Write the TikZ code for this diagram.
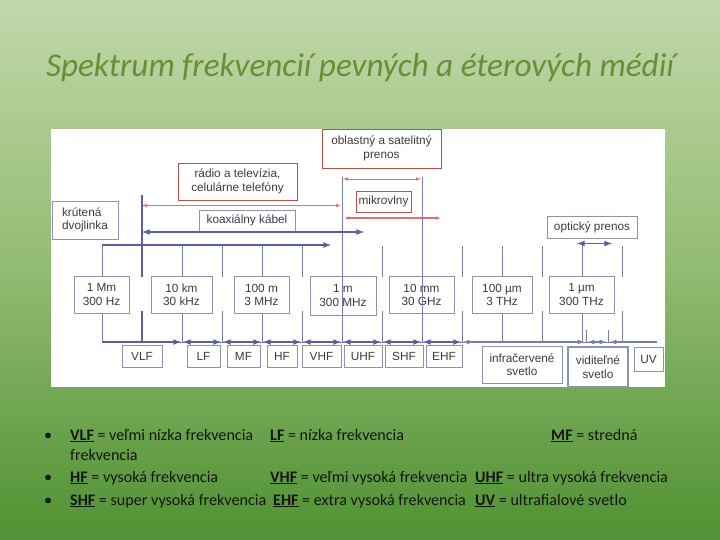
\documentclass[tikz,border=0pt]{standalone}
\usepackage{fontspec}
\setmainfont{Carlito}
\newfontfamily\diagfont{Liberation Sans}
\usetikzlibrary{positioning, arrows.meta}

\definecolor{bgtop}{RGB}{226,236,216}
\definecolor{bghigh}{RGB}{206,223,186}
\definecolor{bgmid}{RGB}{150,190,118}
\definecolor{bglow}{RGB}{88,150,58}
\definecolor{bgbot}{RGB}{36,110,22}
\definecolor{titlegreen}{RGB}{104,142,54}
\definecolor{axisblue}{RGB}{88,96,160}
\definecolor{tickblue}{RGB}{120,126,166}
\definecolor{boxgray}{RGB}{140,146,178}
\definecolor{boxred}{RGB}{192,76,76}
\definecolor{arrowred}{RGB}{222,112,112}
\definecolor{txtgray}{RGB}{60,60,64}
\definecolor{legendtext}{RGB}{20,22,20}

\pgfdeclareverticalshading{bgshade}{100bp}{color(0bp)=(bgbot); color(28bp)=(bglow); color(52bp)=(bgmid); color(82bp)=(bghigh); color(100bp)=(bgtop)}

\begin{document}
\begin{tikzpicture}[x=1pt, y=-1pt,
    box/.style={draw=boxgray, fill=white, line width=0.8pt, inner sep=0pt, align=center, text=txtgray, font=\diagfont\fontsize{11.8}{13.5}\selectfont},
    redbox/.style={box, draw=boxred},
    thin tick/.style={tickblue, line width=0.7pt},
    long tick/.style={tickblue, line width=1pt},
    axis/.style={axisblue, line width=1.6pt},
    red arrow/.style={arrowred, line width=0.8pt, {Latex[length=5pt,width=3.6pt]}-{Latex[length=5pt,width=3.6pt]}},
    legend/.style={anchor=base west, text=legendtext, font=\fontsize{16.1}{18}\selectfont, inner sep=0pt}]
  \tikzset{>=latex}

  % Background and white panel
  \useasboundingbox (0,0) rectangle (720,540);
  \shade[shading=bgshade] (0,0) rectangle (720,540);
  \fill[white] (51,129) rectangle (665,387);

  % Title
  \node[text=titlegreen, font=\itshape\fontsize{33.2}{38}\selectfont] (title) at (360,68) {Spektrum frekvencií pevných a éterových médií};

  % Ticks that run through the wavelength boxes
  \foreach \i/\x/\top in {1/102/245, 3/182/245, 5/262/245, 11/502/246, 13/582/244} {
    \coordinate (t\i) at (\x,\top);
    \coordinate (b\i) at (\x,342);
    \draw[thin tick] (t\i) -- (b\i);
  }
  % Ticks between the boxes, broken at the box row
  \foreach \i/\x/\top in {4/222/245, 6/302/245, 8/382/246, 10/462/246, 12/542/246, 14/622/246} {
    \coordinate (t\i) at (\x,\top);
    \coordinate (b\i) at (\x,342);
    \draw[thin tick] (t\i) -- (\x,277) (\x,311) -- (b\i);
  }
  \coordinate (t2) at (142,195);
  \coordinate (b2) at (142,342);
  \draw[axisblue, line width=1.3pt] (t2) -- (142,277) (142,311) -- (b2);
  \coordinate (t7) at (342,177);
  \coordinate (b7) at (342,342);
  \coordinate (t9) at (422,177);
  \coordinate (b9) at (422,342);

  % Boxes with the media
  \node[redbox, minimum width=119, minimum height=39] (satel) at (381.5,148.5) {oblastný a satelitný\\prenos};
  \node[redbox, minimum width=119, minimum height=37] (radio) at (237.5,181.5) {rádio a televízia,\\celulárne telefóny};
  \node[redbox, minimum width=55, minimum height=21] (micro) at (383.5,201.5) {mikrovlny};
  \node[box, align=left, minimum width=66, minimum height=38] (twisted) at (85,220) {krútená\\dvojlinka};
  \node[box, minimum width=96, minimum height=21] (coax) at (247,220.5) {koaxiálny kábel};
  \node[box, minimum width=90, minimum height=22] (optic) at (592,227) {optický prenos};

  % Wavelength / frequency boxes
  \node[box, minimum width=55, minimum height=37.5] (w1) at (101.5,294.7) {1 Mm\\300 Hz};
  \node[box, minimum width=61, minimum height=37.5] (w2) at (181.5,294.7) {10 km\\30 kHz};
  \node[box, minimum width=55, minimum height=37.5] (w3) at (261.5,294.7) {100 m\\3 MHz};
  \node[box, minimum width=66, minimum height=39] (w4) at (343,295.5) {1 m\\300 MHz};
  \node[box, minimum width=65, minimum height=37.5] (w5) at (421.5,294.7) {10 mm\\30 GHz};
  \node[box, minimum width=60, minimum height=37.5] (w6) at (502,294.7) {100 µm\\3 THz};
  \node[box, minimum width=65, minimum height=37.5] (w7) at (581.5,294.7) {1 µm\\300 THz};

  % Long ticks drawn over the boxes
  \draw[long tick] (t7) -- (b7);
  \draw[long tick] (t9) -- (b9);

  % Band boxes
  \foreach \name/\cx/\w in {VLF/142/40, LF/203.5/33, MF/243.5/33, HF/282/30, VHF/321.5/39, UHF/363/38, SHF/404/38, EHF/444/36} {
    \node[box, minimum width=\w, minimum height=22] (\name) at (\cx,356) {\name};
  }
  \node[box, minimum width=80, minimum height=37] (IR) at (522,364.5) {infračervené\\svetlo};
  \node[box, line width=1.1pt, minimum width=60, minimum height=40] (VIS) at (598,367) {viditeľné\\svetlo};
  \node[box, minimum width=29, minimum height=24] (UV) at (648.5,359) {UV};

  % Arrows of the media
  \coordinate (topend) at (331,245);
  \draw[axis, ->] (t1) -- (topend);
  \coordinate (radL) at (142,205.5);
  \coordinate (radR) at (341,205.5);
  \draw[red arrow] (radL) -- (radR);
  \coordinate (coaxL) at (142,232);
  \coordinate (coaxR) at (364,232);
  \draw[axis, <->] (coaxL) -- (coaxR);
  \coordinate (satL) at (343,179);
  \coordinate (satR) at (421,179);
  \draw[red arrow] (satL) -- (satR);
  \coordinate (micL) at (344,218);
  \coordinate (micR) at (441,218);
  \draw[red arrow, line width=1.4pt] (micL) -- (micR);
  \coordinate (optL) at (577,243.5);
  \coordinate (optR) at (612,243.5);
  \draw[axis, <->] (optL) -- (optR);

  % Bottom axis with the bands
  \coordinate (axend) at (657,342);
  \draw[long tick] (b1) -- (axend);
  \draw[axis, ->] (b1) -- ([xshift=-1]b3);
  \foreach \a/\b in {3/4, 4/5, 5/6, 6/7, 7/8, 8/9, 9/10} {
    \draw[axis, <->] ([xshift=1]b\a) -- ([xshift=-1]b\b);
  }
  % light: infrared, visible, UV
  \coordinate (vis1) at (586,342);
  \coordinate (vis2) at (608,342);
  \draw[long tick] (vis1) -- ++(0,-12);
  \draw[long tick] (vis2) -- ++(0,-12);
  \draw[tickblue, line width=1.2pt, <->] ([xshift=1]b10) -- ([xshift=-2]vis1);
  \draw[tickblue, line width=1.2pt, <->] ([xshift=2]vis1) -- ([xshift=-2]vis2);
  \draw[tickblue, line width=1.2pt, <-] ([xshift=2]vis2) -- (axend);

  % Legend
  \foreach \y in {440,482,505} {
    \node[legend] (bul\y) at (44,\y) {\textbullet};
  }
  \node[legend] (l1) at (70,440) {\underline{\textbf{VLF}} = veľmi nízka frekvencia};
  \node[legend] (l2) at (270,440) {\underline{\textbf{LF}} = nízka frekvencia};
  \node[legend] (l3) at (551,440) {\underline{\textbf{MF}} = stredná};
  \node[legend] (l4) at (70,460) {frekvencia};
  \node[legend] (l5) at (70,482) {\underline{\textbf{HF}} = vysoká frekvencia};
  \node[legend] (l6) at (270,482) {\underline{\textbf{VHF}} = veľmi vysoká frekvencia};
  \node[legend] (l7) at (475,482) {\underline{\textbf{UHF}} = ultra vysoká frekvencia};
  \node[legend] (l8) at (70,505) {\underline{\textbf{SHF}} = super vysoká frekvencia};
  \node[legend] (l9) at (273,505) {\underline{\textbf{EHF}} = extra vysoká frekvencia};
  \node[legend] (l10) at (475,505) {\underline{\textbf{UV}} = ultrafialové svetlo};
\end{tikzpicture}
\end{document}
